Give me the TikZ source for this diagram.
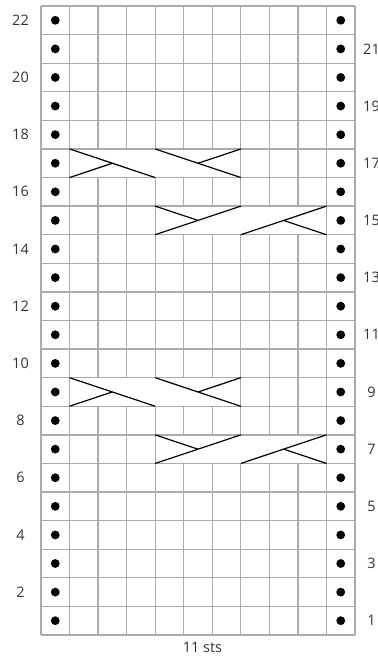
\documentclass[tikz,border=0pt]{standalone}
\usepackage{fontspec}
\setmainfont{Open Sans}
\begin{document}
\begin{tikzpicture}[x=1bp,y=-1bp,
  gridline/.style={draw=black!33,line width=1.3bp},
  cablefill/.style={fill=white},
  cableline/.style={draw=black,line width=1.2bp},
  purl/.style={fill=black},
  rowlabel/.style={font=\fontsize{14.5}{17}\selectfont,text=black!80,inner sep=0pt,anchor=center},
  footlabel/.style={font=\fontsize{14.5}{17}\selectfont,text=black!80,inner sep=0pt,anchor=center}]
\useasboundingbox (0,0) rectangle (377,659);
\fill[white] (0,0) rectangle (377,659);
\def\xo{41}\def\yo{6}\def\cw{28.545}\def\ch{28.59}
% grid
\foreach \i in {0,...,11} \draw[gridline] ({\xo+\i*\cw},\yo) -- ({\xo+\i*\cw},{\yo+22*\ch});
\foreach \j in {0,...,22} \draw[gridline] (\xo,{\yo+\j*\ch}) -- ({\xo+11*\cw},{\yo+\j*\ch});
% cable regions: (row from top index, first col, last col)
% row 17 -> top index 5 ; row 9 -> 13 ; row 15 -> 7 ; row 7 -> 15
\foreach \t in {5,13} {
  \fill[cablefill] ({\xo+1*\cw+0.7},{\yo+\t*\ch+0.7}) rectangle ({\xo+7*\cw-0.7},{\yo+(\t+1)*\ch-0.7});
  % symbol A cols 2-4
  \coordinate (aTL) at ({\xo+1*\cw},{\yo+\t*\ch});
  \coordinate (aBR) at ({\xo+4*\cw},{\yo+(\t+1)*\ch});
  \coordinate (aBL) at ({\xo+1*\cw},{\yo+(\t+1)*\ch});
  \coordinate (aC) at ({\xo+2.5*\cw},{\yo+(\t+0.5)*\ch});
  \draw[cableline] (aTL) -- (aBR);
  \draw[cableline] (aBL) -- (aC);
  % symbol B cols 5-7
  \coordinate (bTL) at ({\xo+4*\cw},{\yo+\t*\ch});
  \coordinate (bBR) at ({\xo+7*\cw},{\yo+(\t+1)*\ch});
  \coordinate (bTR) at ({\xo+7*\cw},{\yo+\t*\ch});
  \coordinate (bC) at ({\xo+5.5*\cw},{\yo+(\t+0.5)*\ch});
  \draw[cableline] (bTL) -- (bBR);
  \draw[cableline] (bTR) -- (bC);
}
\foreach \t in {7,15} {
  \fill[cablefill] ({\xo+4*\cw+0.7},{\yo+\t*\ch+0.7}) rectangle ({\xo+10*\cw-0.7},{\yo+(\t+1)*\ch-0.7});
  % symbol C cols 5-7
  \coordinate (cBL) at ({\xo+4*\cw},{\yo+(\t+1)*\ch});
  \coordinate (cTR) at ({\xo+7*\cw},{\yo+\t*\ch});
  \coordinate (cTL) at ({\xo+4*\cw},{\yo+\t*\ch});
  \coordinate (cC) at ({\xo+5.5*\cw},{\yo+(\t+0.5)*\ch});
  \draw[cableline] (cBL) -- (cTR);
  \draw[cableline] (cTL) -- (cC);
  % symbol D cols 8-10
  \coordinate (dBL) at ({\xo+7*\cw},{\yo+(\t+1)*\ch});
  \coordinate (dTR) at ({\xo+10*\cw},{\yo+\t*\ch});
  \coordinate (dBR) at ({\xo+10*\cw},{\yo+(\t+1)*\ch});
  \coordinate (dC) at ({\xo+8.5*\cw},{\yo+(\t+0.5)*\ch});
  \draw[cableline] (dBL) -- (dTR);
  \draw[cableline] (dC) -- (dBR);
}
% purl dots
\foreach \t in {0,...,21} {
  \fill[purl] ({\xo+0.5*\cw},{\yo+(\t+0.5)*\ch}) circle (4.4);
  \fill[purl] ({\xo+10.5*\cw},{\yo+(\t+0.5)*\ch}) circle (4.4);
}
% row labels
\foreach \r in {2,4,...,22}
  \node[rowlabel] (L\r) at (20.5,{\yo+(22-\r+0.5)*\ch}) {\r};
\foreach \r in {1,3,...,21}
  \node[rowlabel] (R\r) at (371.5,{\yo+(22-\r+0.5)*\ch}) {\r};
\node[footlabel] (sts) at (202.5,647) {11 sts};
\end{tikzpicture}
\end{document}
